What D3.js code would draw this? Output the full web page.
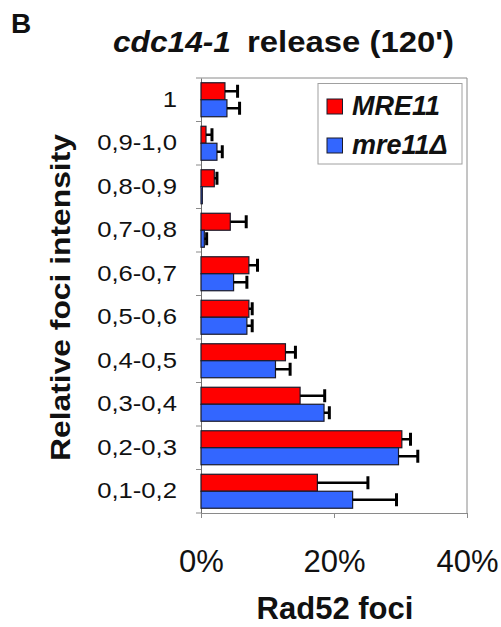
<!DOCTYPE html>
<html>
<head>
<meta charset="utf-8">
<script src="https://cdn.jsdelivr.net/npm/d3@7"></script>
<style>
  body { margin: 0; background: #fff; }
  text { font-family: "Liberation Sans", Arial, sans-serif; fill: #111; }
</style>
</head>
<body>
<script>
// Chart data (bottom category first)
var categories = ["0,1-0,2", "0,2-0,3", "0,3-0,4", "0,4-0,5", "0,5-0,6",
                  "0,6-0,7", "0,7-0,8", "0,8-0,9", "0,9-1,0", "1"];
var seriesNames = ["MRE11", "mre11\u0394"];
var mre11Values = [17.5, 30.2, 14.9, 12.7, 7.2, 7.2, 4.4, 2.0, 0.75, 3.6];
var mre11Errors = [7.6, 1.3, 3.7, 1.5, 0.5, 1.3, 2.4, 0.4, 0.9, 1.9];
var deltaValues = [22.8, 29.7, 18.5, 11.2, 6.9, 4.9, 0.5, 0.2, 2.4, 3.9];
var deltaErrors = [6.6, 2.9, 0.8, 2.2, 0.8, 2.0, 0.35, 0, 0.8, 1.9];
var xTicks = [0, 20, 40];
var colors = ["#ff0000", "#3366ff"];

// SVG size
var svgWidth = 501;
var svgHeight = 627;

// Plot box
var plot = { left: 201, right: 467, top: 78, bottom: 513 };

var svg = d3.select("body")
  .append("svg")
  .attr("width", svgWidth)
  .attr("height", svgHeight);

// Build rows from the arrays
var rows = categories.map(function(c, i) {
  return {
    cat: c,
    bars: [
      { name: seriesNames[0], value: mre11Values[i], err: mre11Errors[i], color: colors[0] },
      { name: seriesNames[1], value: deltaValues[i], err: deltaErrors[i], color: colors[1] }
    ]
  };
});

// Scales
var xScale = d3.scaleLinear()
  .domain([0, 40])
  .range([plot.left, plot.right]);

var yScale = d3.scaleBand()
  .domain(categories)
  .range([plot.bottom, plot.top])
  .padding(0);

var subScale = d3.scaleBand()
  .domain(seriesNames)
  .range([0, yScale.bandwidth()])
  .paddingInner(0)
  .paddingOuter(0.28);

// Plot frame (top and right)
svg.append("path")
  .attr("d", `M${plot.left},${plot.top}H${plot.right}V${plot.bottom}`)
  .attr("fill", "none")
  .attr("stroke", "#8a8a8a")
  .attr("stroke-width", 1);

// Category boundary ticks on the left
var boundaries = categories.map(c => yScale(c)).concat([plot.bottom]);
svg.append("g").selectAll("line")
  .data(boundaries)
  .enter().append("line")
  .attr("x1", plot.left - 5)
  .attr("x2", plot.left)
  .attr("y1", d => d)
  .attr("y2", d => d)
  .attr("stroke", "#8a8a8a");

// Y axis labels (slightly stretched, like the original)
var leftAxis = d3.axisLeft(yScale).tickSize(0).tickPadding(24);
var yAxisG = svg.append("g")
  .attr("transform", `translate(${plot.left},0)`)
  .call(leftAxis);
yAxisG.select(".domain").attr("stroke", "#6f6f6f");
yAxisG.selectAll("text")
  .style("font-size", "22.5px")
  .attr("fill", "#111")
  .each(function() {
    var len = this.getComputedTextLength();
    d3.select(this)
      .attr("textLength", len * 1.14)
      .attr("lengthAdjust", "spacingAndGlyphs");
  });

// X axis
var bottomAxis = d3.axisBottom(xScale)
  .tickValues(xTicks)
  .tickFormat(d => d + "%")
  .tickSizeInner(5)
  .tickSizeOuter(0)
  .tickPadding(32);
var xAxisG = svg.append("g")
  .attr("transform", `translate(0,${plot.bottom})`)
  .call(bottomAxis);
xAxisG.select(".domain").attr("stroke", "#8a8a8a");
xAxisG.selectAll("line").attr("stroke", "#8a8a8a");
xAxisG.selectAll("text")
  .style("font-size", "31px")
  .attr("fill", "#111");

// Bars
var groups = svg.append("g").selectAll("g")
  .data(rows)
  .enter().append("g")
  .attr("transform", d => `translate(0,${yScale(d.cat)})`);

groups.selectAll("rect")
  .data(d => d.bars)
  .enter().append("rect")
  .attr("x", xScale(0))
  .attr("y", d => subScale(d.name))
  .attr("width", d => xScale(d.value) - xScale(0))
  .attr("height", subScale.bandwidth())
  .attr("fill", d => d.color)
  .attr("stroke", "#1a1a2a")
  .attr("stroke-width", 1.2);

// Error bars
var errG = groups.selectAll("g.err")
  .data(d => d.bars.filter(b => b.err > 0))
  .enter().append("g")
  .attr("class", "err");

errG.append("line")
  .attr("x1", d => xScale(d.value))
  .attr("x2", d => xScale(d.value + d.err))
  .attr("y1", d => subScale(d.name) + subScale.bandwidth() / 2)
  .attr("y2", d => subScale(d.name) + subScale.bandwidth() / 2)
  .attr("stroke", "#000")
  .attr("stroke-width", 2.5);

errG.append("line")
  .attr("x1", d => xScale(d.value + d.err))
  .attr("x2", d => xScale(d.value + d.err))
  .attr("y1", d => subScale(d.name) + subScale.bandwidth() / 2 - 6.5)
  .attr("y2", d => subScale(d.name) + subScale.bandwidth() / 2 + 6.5)
  .attr("stroke", "#000")
  .attr("stroke-width", 3);

// Legend
var legend = svg.append("g");
legend.append("rect")
  .attr("x", 318)
  .attr("y", 83.5)
  .attr("width", 144)
  .attr("height", 80.5)
  .attr("fill", "#fff")
  .attr("stroke", "#a0a0a0");

seriesNames.forEach(function(name, i) {
  legend.append("rect")
    .attr("x", 327)
    .attr("y", 99 + i * 39)
    .attr("width", 15.5)
    .attr("height", 15)
    .attr("fill", colors[i])
    .attr("stroke", "#1a1a2a");
  legend.append("text")
    .attr("x", 352)
    .attr("y", 114.5 + i * 39.5)
    .style("font-size", "27px")
    .style("font-weight", "bold")
    .style("font-style", "italic")
    .text(name);
});

// Panel letter
svg.append("text")
  .attr("x", 11)
  .attr("y", 33)
  .style("font-size", "28px")
  .style("font-weight", "bold")
  .text("B");

// Title
var title = svg.append("text")
  .attr("y", 51.5)
  .style("font-size", "30px")
  .style("font-weight", "bold");
title.append("tspan")
  .attr("x", 113)
  .attr("textLength", 118)
  .attr("lengthAdjust", "spacingAndGlyphs")
  .style("font-style", "italic")
  .text("cdc14-1");
title.append("tspan")
  .attr("x", 247)
  .attr("textLength", 207)
  .attr("lengthAdjust", "spacingAndGlyphs")
  .text("release (120')");

// Axis titles
svg.append("text")
  .attr("transform", `translate(70, ${(plot.top + plot.bottom) / 2 + 2}) rotate(-90)`)
  .attr("text-anchor", "middle")
  .attr("textLength", 327)
  .attr("lengthAdjust", "spacingAndGlyphs")
  .style("font-size", "27px")
  .style("font-weight", "bold")
  .text("Relative foci intensity");

svg.append("text")
  .attr("x", 335)
  .attr("y", 619)
  .attr("text-anchor", "middle")
  .style("font-size", "31px")
  .style("font-weight", "bold")
  .text("Rad52 foci");
</script>
</body>
</html>
